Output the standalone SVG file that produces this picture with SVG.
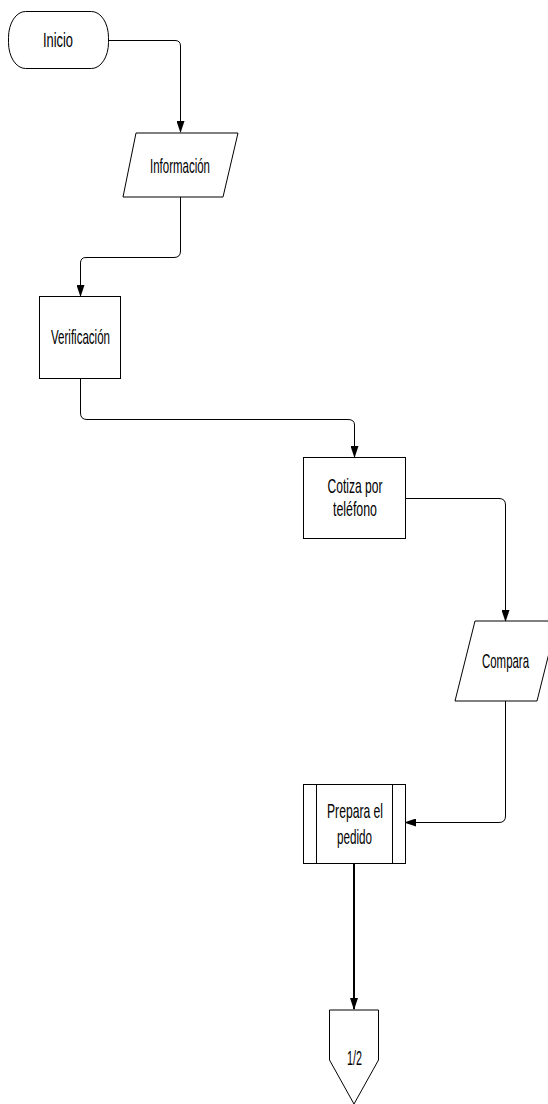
<svg xmlns="http://www.w3.org/2000/svg" width="548" height="1104" viewBox="0 0 548 1104">
  <style>
    .shape { fill: #ffffff; stroke: #000000; stroke-width: 1; }
    .label { font-family: "Liberation Sans", Arial, sans-serif; font-size: 21px; fill: #000000; text-anchor: middle; }
    .conn { fill: none; stroke: #000000; stroke-width: 1; }
    .conn-bold { fill: none; stroke: #000000; stroke-width: 2; }
  </style>
  <defs>
    <marker id="arrow" markerWidth="12" markerHeight="8" refX="11" refY="4" viewBox="0 0 12 8" orient="auto" markerUnits="userSpaceOnUse">
      <path d="M0,0 L12,4 L0,8 Z" fill="#000000"/>
    </marker>
  </defs>

  <rect width="548" height="1104" fill="#ffffff"/>

  <!-- flow connectors -->
  <g id="connectors">
    <path class="conn" d="M108,40.5 H175 Q180.5,40.5 180.5,46 V132" marker-end="url(#arrow)"/>
    <path class="conn" d="M180.5,197 V251 Q180.5,257.5 174,257.5 H86 Q80.5,257.5 80.5,263 V296" marker-end="url(#arrow)"/>
    <path class="conn" d="M80.5,378 V413 Q80.5,419.5 87,419.5 H348 Q354.5,419.5 354.5,425 V457" marker-end="url(#arrow)"/>
    <path class="conn" d="M405,498.5 H499 Q505.5,498.5 505.5,505 V621" marker-end="url(#arrow)"/>
    <path class="conn" d="M505.5,701 V816 Q505.5,822.5 499,822.5 H405" marker-end="url(#arrow)"/>
    <path class="conn-bold" d="M354,863 V1009" marker-end="url(#arrow)"/>
  </g>

  <g id="inicio">
    <rect class="shape" x="8.5" y="11.5" width="100" height="57" rx="17" ry="26"/>
    <text class="label" x="58" y="47" textLength="30" lengthAdjust="spacingAndGlyphs">Inicio</text>
  </g>

  <g id="informacion">
    <polygon class="shape" points="136,133 238,133 223,197 123,197"/>
    <text class="label" x="180" y="173" textLength="60" lengthAdjust="spacingAndGlyphs">Información</text>
  </g>

  <g id="verificacion">
    <rect class="shape" x="39.5" y="296.5" width="81" height="82"/>
    <text class="label" x="80.5" y="344" textLength="59" lengthAdjust="spacingAndGlyphs">Verificación</text>
  </g>

  <g id="cotiza">
    <rect class="shape" x="303.5" y="457.5" width="102" height="81"/>
    <text class="label" x="355" y="493" textLength="55" lengthAdjust="spacingAndGlyphs">Cotiza por</text>
    <text class="label" x="355" y="516" textLength="44" lengthAdjust="spacingAndGlyphs">teléfono</text>
  </g>

  <g id="compara">
    <polygon class="shape" points="475,621 557,621 537,701 455,701"/>
    <text class="label" x="505.5" y="668" textLength="47" lengthAdjust="spacingAndGlyphs">Compara</text>
  </g>

  <g id="prepara">
    <rect class="shape" x="303.5" y="784.5" width="102" height="79"/>
    <line class="shape" x1="316.5" y1="784.5" x2="316.5" y2="863.5"/>
    <line class="shape" x1="392.5" y1="784.5" x2="392.5" y2="863.5"/>
    <text class="label" x="355" y="818" textLength="56" lengthAdjust="spacingAndGlyphs">Prepara el</text>
    <text class="label" x="354.5" y="844" textLength="35" lengthAdjust="spacingAndGlyphs">pedido</text>
  </g>

  <g id="conector-pagina">
    <polygon class="shape" points="329.5,1010 378.5,1010 378.5,1060 354,1104 329.5,1060"/>
    <text class="label" x="354.5" y="1065" textLength="15" lengthAdjust="spacingAndGlyphs">1/2</text>
  </g>
</svg>
